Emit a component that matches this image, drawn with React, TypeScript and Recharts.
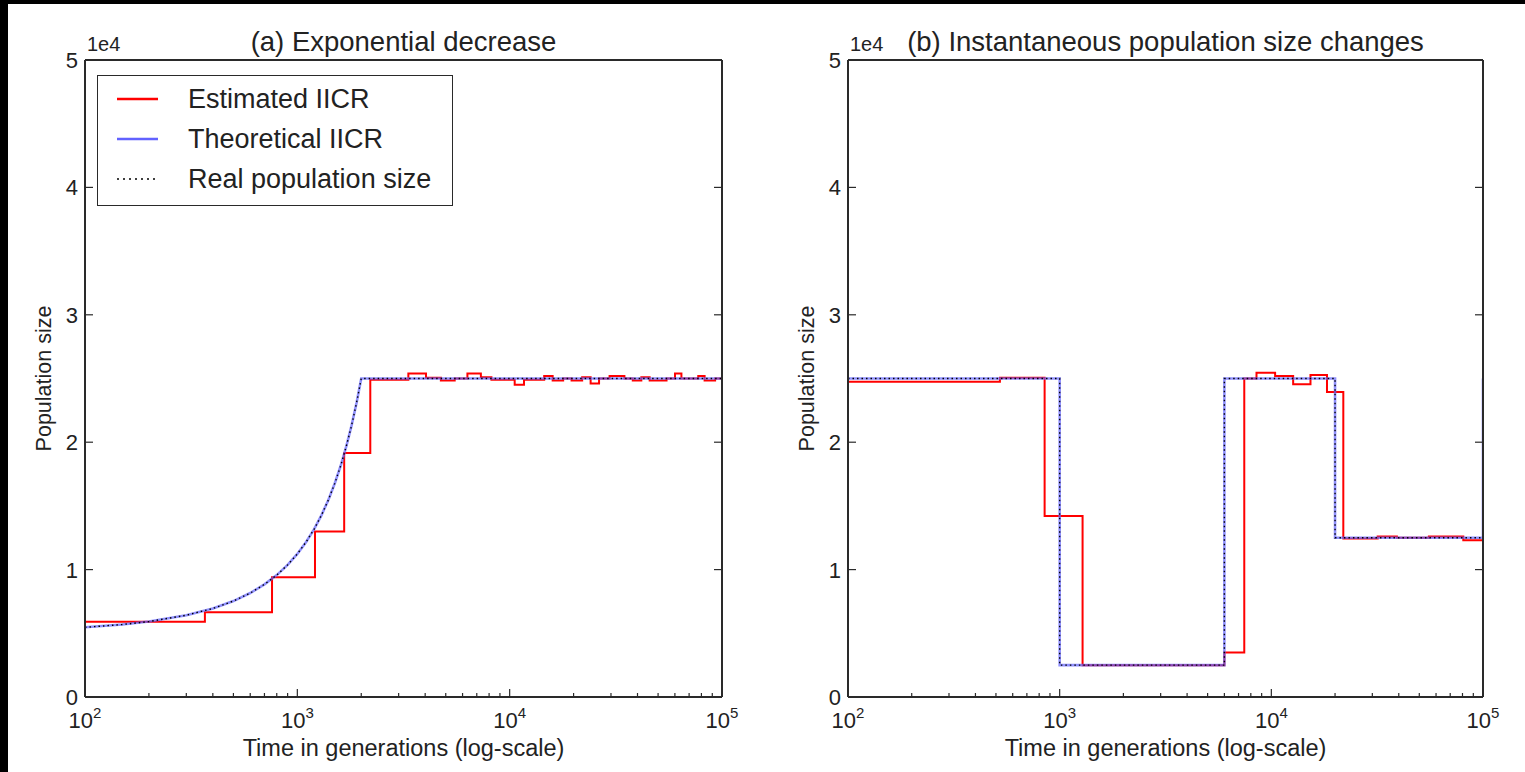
import { LineChart, Line, XAxis, YAxis, Legend, Label } from 'recharts';

const FONT = '"Liberation Sans", Arial, Helvetica, sans-serif';
const AXIS = '#2a2a2a';
const TEXT = '#222';
const RED = '#ff0000';
const BLUE = '#6262ff';

// log x axis: decades and the 2..9 minor ticks
const MAJOR_X = [100, 1000, 10000, 100000];
const X_TICKS = [
	100, 200, 300, 400, 500, 600, 700, 800, 900,
	1000, 2000, 3000, 4000, 5000, 6000, 7000, 8000, 9000,
	10000, 20000, 30000, 40000, 50000, 60000, 70000, 80000, 90000,
	100000,
];
const Y_TICKS = [0, 10000, 20000, 30000, 40000, 50000];

// (a) exponential decrease
const estTimesA = [
	100, 367, 760, 1211, 1662, 2206, 3333, 4036, 4742, 5510, 6324, 7318, 8206,
	10560, 11680, 14540, 15940, 17860, 19570, 21950, 24060, 26360, 29550, 34700,
	38000, 41700, 45640, 54800, 60070, 64400, 77300, 82800, 92800, 100000,
];
const estSizesA = [
	5900, 6650, 9400, 13000, 19150, 24900, 25400, 25050, 24850, 25000, 25400,
	25100, 24900, 24500, 24900, 25200, 24850, 25000, 24850, 25100, 24600, 25000,
	25200, 25000, 24850, 25100, 24850, 25000, 25400, 25000, 25200, 24850, 25000,
	25000,
];
const theoTimesA = [
	100, 150, 200, 300, 400, 500, 600, 700, 800, 900, 1000, 1100, 1200, 1300,
	1400, 1500, 1600, 1700, 1800, 1900, 2000, 100000,
];
const theoSizesA = [
	5470, 5690, 5920, 6420, 6950, 7530, 8160, 8840, 9570, 10370, 11230, 12170,
	13180, 14280, 15470, 16760, 18150, 19670, 21300, 23080, 25000, 25000,
];
// the real size curve lies on the theoretical one
const realTimesA = theoTimesA;
const realSizesA = theoSizesA;

// (b) instantaneous changes
const estTimesB = [
	100, 522, 849, 1283, 6000, 7450, 8510, 10420, 12680, 15310, 18320, 21880,
	31800, 39200, 55500, 80700, 100000,
];
const estSizesB = [
	24750, 25060, 14200, 2500, 3500, 25000, 25450, 25200, 24550, 25270, 23950,
	12450, 12600, 12500, 12600, 12300, 12300,
];
const theoTimesB = [100, 1000, 6000, 20000, 100000];
const theoSizesB = [25000, 2500, 25000, 12500, 25000];
const realTimesB = theoTimesB;
const realSizesB = theoSizesB;

const toPts = (ts: number[], ns: number[]) => ts.map((t, i) => ({ t, n: ns[i] }));

function BottomTick(props: any) {
	const { x, y, payload } = props;
	const v = payload.value;
	const major = MAJOR_X.includes(v);
	return (
		<g>
			<line x1={x} x2={x} y1={y} y2={y - (major ? 8 : 4)} stroke={AXIS} strokeWidth={1.2} />
			{major && (
				<text x={x} y={y + 31} textAnchor='middle' fontSize={22} fill={TEXT} fontFamily={FONT}>
					10
					<tspan dy={-10} fontSize={15}>
						{Math.round(Math.log10(v))}
					</tspan>
				</text>
			)}
		</g>
	);
}

function TopTick(props: any) {
	const { x, y, payload } = props;
	const major = MAJOR_X.includes(payload.value);
	return <line x1={x} x2={x} y1={y} y2={y + (major ? 8 : 4)} stroke={AXIS} strokeWidth={1.2} />;
}

function LeftTick(props: any) {
	const { x, y, payload } = props;
	return (
		<g>
			<line x1={x} x2={x + 8} y1={y} y2={y} stroke={AXIS} strokeWidth={1.2} />
			<text x={x - 7} y={y + 8} textAnchor='end' fontSize={22} fill={TEXT} fontFamily={FONT}>
				{payload.value / 10000}
			</text>
		</g>
	);
}

function RightTick(props: any) {
	const { x, y } = props;
	return <line x1={x} x2={x - 8} y1={y} y2={y} stroke={AXIS} strokeWidth={1.2} />;
}

const legendRows = [
	{ name: 'Estimated IICR', color: RED, dash: undefined, width: 2.5 },
	{ name: 'Theoretical IICR', color: BLUE, dash: undefined, width: 2.5 },
	{ name: 'Real population size', color: '#000', dash: '2 4', width: 1.5 },
];

function LegendBox() {
	return (
		<div
			style={{
				width: 354,
				height: 129,
				border: `1.5px solid ${AXIS}`,
				background: '#fff',
				fontFamily: FONT,
				fontSize: 27,
				color: TEXT,
				boxSizing: 'content-box',
			}}>
			{legendRows.map((r, i) => (
				<div
					key={r.name}
					style={{ display: 'flex', alignItems: 'center', height: 40, marginTop: i === 0 ? 3 : 0 }}>
					<svg width={90} height={10} style={{ flex: 'none' }}>
						<line x1={19} x2={60} y1={5} y2={5} stroke={r.color} strokeWidth={r.width} strokeDasharray={r.dash} />
					</svg>
					<span style={{ whiteSpace: 'nowrap' }}>{r.name}</span>
				</div>
			))}
		</div>
	);
}

interface PanelProps {
	left: number;
	width: number;
	title: string;
	est: { t: number; n: number }[];
	theo: { t: number; n: number }[];
	real: { t: number; n: number }[];
	curve: 'linear' | 'stepAfter';
	legend?: boolean;
}

function Panel({ left, width, title, est, theo, real, curve, legend }: PanelProps) {
	const plotW = width - 35 - 50 - 30 - 8;
	return (
		<div style={{ position: 'absolute', left, top: 0, width, height: 772 }}>
			<div
				style={{
					position: 'absolute',
					left: 85,
					width: plotW,
					top: 27,
					textAlign: 'center',
					fontFamily: FONT,
					fontSize: 27.5,
					lineHeight: '30px',
					color: TEXT,
					whiteSpace: 'nowrap',
				}}>
				{title}
			</div>
			<div
				style={{
					position: 'absolute',
					left: 87,
					top: 33,
					fontFamily: FONT,
					fontSize: 20,
					lineHeight: '22px',
					color: TEXT,
				}}>
				1e4
			</div>
			<LineChart width={width} height={772} margin={{ top: 40, right: 30, bottom: 35, left: 35 }}>
				<XAxis
					dataKey='t'
					type='number'
					scale='log'
					domain={[100, 100000]}
					ticks={X_TICKS}
					interval={0}
					tickSize={0}
					tickMargin={0}
					tickLine={false}
					tick={<BottomTick />}
					axisLine={{ stroke: AXIS, strokeWidth: 2 }}
					height={40}
					allowDataOverflow>
					<Label
						content={(p: any) => (
							<text
								x={p.viewBox.x + p.viewBox.width / 2}
								y={p.viewBox.y + 59}
								textAnchor='middle'
								fontSize={23.5}
								fill={TEXT}
								fontFamily={FONT}>
								Time in generations (log-scale)
							</text>
						)}
					/>
				</XAxis>
				<XAxis
					xAxisId='top'
					orientation='top'
					type='number'
					scale='log'
					domain={[100, 100000]}
					ticks={X_TICKS}
					interval={0}
					tickSize={0}
					tickMargin={0}
					tickLine={false}
					tick={<TopTick />}
					axisLine={{ stroke: AXIS, strokeWidth: 2 }}
					height={20}
					allowDataOverflow
				/>
				<YAxis
					dataKey='n'
					type='number'
					domain={[0, 50000]}
					ticks={Y_TICKS}
					interval={0}
					tickSize={0}
					tickMargin={0}
					tickLine={false}
					tick={<LeftTick />}
					axisLine={{ stroke: AXIS, strokeWidth: 2 }}
					width={50}
					allowDataOverflow>
					<Label
						content={(p: any) => {
							const cx = p.viewBox.x + 9;
							const cy = p.viewBox.y + p.viewBox.height / 2;
							return (
								<text
									x={cx}
									y={cy}
									transform={`rotate(-90 ${cx} ${cy})`}
									textAnchor='middle'
									dominantBaseline='central'
									fontSize={21.5}
									fill={TEXT}
									fontFamily={FONT}>
									Population size
								</text>
							);
						}}
					/>
				</YAxis>
				<YAxis
					yAxisId='right'
					orientation='right'
					type='number'
					domain={[0, 50000]}
					ticks={Y_TICKS}
					interval={0}
					tickSize={0}
					tickMargin={0}
					tickLine={false}
					tick={<RightTick />}
					axisLine={{ stroke: AXIS, strokeWidth: 2 }}
					width={8}
					allowDataOverflow
				/>
				<Line
					data={est}
					dataKey='n'
					name='Estimated IICR'
					type='stepAfter'
					stroke={RED}
					strokeWidth={2}
					dot={false}
					activeDot={false}
					isAnimationActive={false}
				/>
				<Line
					data={theo}
					dataKey='n'
					name='Theoretical IICR'
					type={curve}
					stroke={BLUE}
					strokeOpacity={0.7}
					strokeWidth={2.6}
					dot={false}
					activeDot={false}
					isAnimationActive={false}
				/>
				<Line
					data={real}
					dataKey='n'
					name='Real population size'
					type={curve}
					stroke='#000'
					strokeWidth={1.4}
					strokeDasharray='1.5 3'
					dot={false}
					activeDot={false}
					isAnimationActive={false}
				/>
				{legend && (
					<Legend
						layout='vertical'
						align='center'
						verticalAlign='middle'
						content={() => <LegendBox />}
						wrapperStyle={{ left: 97, top: 75, width: 358 }}
					/>
				)}
			</LineChart>
		</div>
	);
}

export default function App() {
	return (
		<div style={{ position: 'absolute', left: 0, top: 0, width: 1525, height: 772, background: '#fff' }}>
			<div style={{ position: 'absolute', left: 0, top: 0, width: 1525, height: 4, background: '#000' }} />
			<div style={{ position: 'absolute', left: 0, top: 0, width: 8, height: 772, background: '#000' }} />
			<Panel
				left={0}
				width={760}
				title='(a) Exponential decrease'
				est={toPts(estTimesA, estSizesA)}
				theo={toPts(theoTimesA, theoSizesA)}
				real={toPts(realTimesA, realSizesA)}
				curve='linear'
				legend
			/>
			<Panel
				left={763}
				width={758}
				title='(b) Instantaneous population size changes'
				est={toPts(estTimesB, estSizesB)}
				theo={toPts(theoTimesB, theoSizesB)}
				real={toPts(realTimesB, realSizesB)}
				curve='stepAfter'
			/>
		</div>
	);
}
